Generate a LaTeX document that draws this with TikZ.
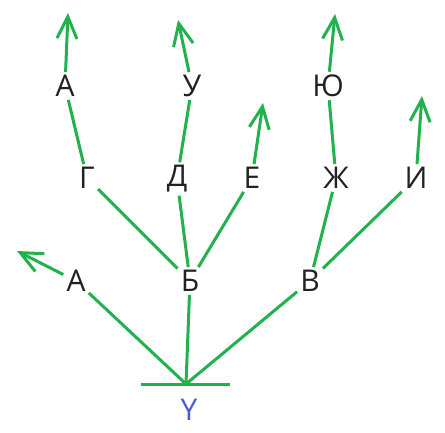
\documentclass[tikz,border=0pt]{standalone}
\usepackage{fontspec}
\setmainfont{Open Sans}
\usetikzlibrary{arrows.meta}
\definecolor{lg}{HTML}{22B14C}
\definecolor{yb}{HTML}{4B5BD6}
\definecolor{ink}{HTML}{222222}
\begin{document}
\begin{tikzpicture}[x=1pt,y=-1pt,
  lbl/.style={font=\fontsize{30}{30}\selectfont, text=ink, inner sep=3pt},
  link/.style={draw=lg, line width=3pt},
  sprout/.style={link, -{Straight Barb[length=22pt,width=20pt]}}]
\useasboundingbox (0,0) rectangle (445,432);
\node[lbl] (a1) at (76,281) {А};
\node[lbl] (b) at (190,281) {Б};
\node[lbl] (v) at (310,281) {В};
\node[lbl] (g) at (87,178) {Г};
\node[lbl] (d) at (177,179) {Д};
\node[lbl] (e) at (252,178) {Е};
\node[lbl] (zh) at (336,178) {Ж};
\node[lbl] (i) at (416,178) {И};
\node[lbl] (a2) at (65,86) {А};
\node[lbl] (u) at (192,86) {У};
\node[lbl] (yu) at (328,86) {Ю};
\node[lbl, text=yb] (y) at (189,410) {Y};
\coordinate (root) at (186,384);
\coordinate (barL) at (141,384);
\coordinate (barR) at (230,384);
\coordinate (ta1) at (17,251);
\coordinate (ta2) at (68,13);
\coordinate (tu) at (178,20);
\coordinate (te) at (263,103);
\coordinate (tyu) at (335,14);
\coordinate (ti) at (422,96);
\draw[link] (barL) -- (barR);
\draw[link] (a1) -- (root);
\draw[link] (b) -- (root);
\draw[link] (v) -- (root);
\draw[link] (g) -- (b);
\draw[link] (d) -- (b);
\draw[link] (e) -- (b);
\draw[link] (zh) -- (v);
\draw[link] (i) -- (v);
\draw[link] (a2) -- (g);
\draw[link] (u) -- (d);
\draw[link] (yu) -- (zh);
\draw[sprout] (a1) -- (ta1);
\draw[sprout] (a2) -- (ta2);
\draw[sprout] (u) -- (tu);
\draw[sprout] (e) -- (te);
\draw[sprout] (yu) -- (tyu);
\draw[sprout] (i) -- (ti);
\end{tikzpicture}
\end{document}
